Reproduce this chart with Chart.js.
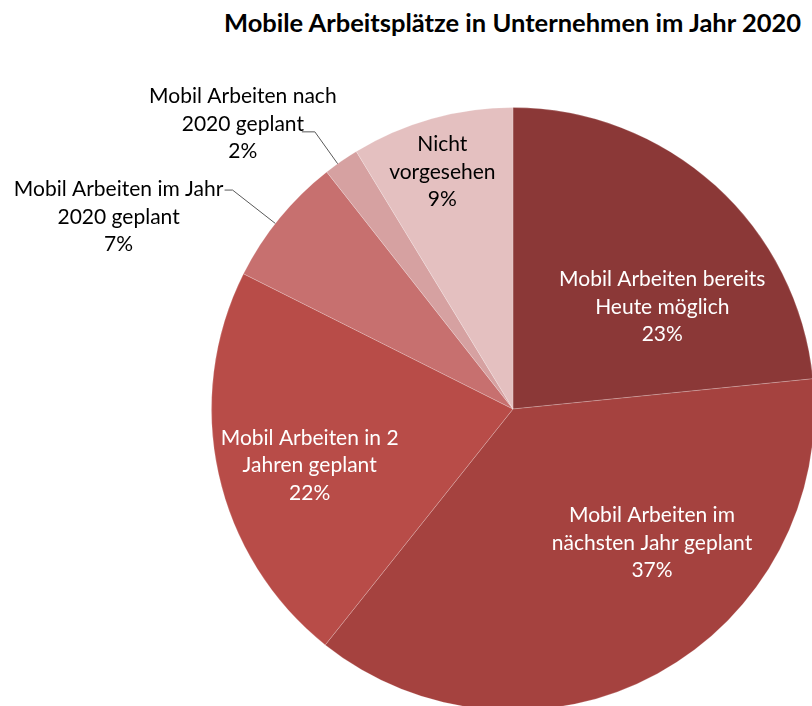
<!DOCTYPE html>
<html>
<head>
<meta charset="utf-8">
<script src="https://cdn.jsdelivr.net/npm/chart.js@4.4.0/dist/chart.umd.min.js"></script>
<style>
  html, body { margin: 0; padding: 0; background: #fff; overflow: hidden; width: 812px; height: 706px; }
  #title { position: absolute; left: 0; top: 7px; width: 1025px; text-align: center; font: bold 25.5px Lato, sans-serif; color: #000; }
  #wrap { position: absolute; left: 0; top: 0; }
</style>
</head>
<body>
<div id="title">Mobile Arbeitsplätze in Unternehmen im Jahr 2020</div>
<div id="wrap"><canvas id="pie" width="830" height="725"></canvas></div>
<script>
// Kategorien und Werte (Anteile in %)
const categories = [
    ['Mobil Arbeiten bereits', 'Heute möglich'],
    ['Mobil Arbeiten im', 'nächsten Jahr geplant'],
    ['Mobil Arbeiten in 2', 'Jahren geplant'],
    ['Mobil Arbeiten im Jahr', '2020 geplant'],
    ['Mobil Arbeiten nach', '2020 geplant'],
    ['Nicht', 'vorgesehen']
];
const shares = [23.4, 37.3, 21.7, 7.0, 1.9, 8.7];
const sliceColors = ['#8B3837', '#A5423F', '#B84C48', '#C7706F', '#D6A1A1', '#E4C0C0'];

// Platzierung der Beschriftungen (Anteil innerhalb des Segments, Radius-Faktor)
const labelLayout = [
    { inside: true, frac: 0.66, r: 0.60 },
    { inside: true, frac: 0.37, r: 0.64 },
    { inside: true, frac: 0.46, r: 0.70 },
    { inside: false, frac: 0.45, r: 1.18, hook: 8, dx: -114, dy: 27 },
    { inside: false, frac: 0.38, r: 1.13, hook: 13, dx: -72, dy: -8 },
    { inside: true, frac: 0.47, r: 0.82, dark: true }
];

const labelFont = '21px Lato, sans-serif';
const lineHeight = 27.5;

const pieLabels = {
    id: 'pieLabels',
    afterDatasetsDraw(chart) {
        const ctx = chart.ctx;
        const meta = chart.getDatasetMeta(0);
        ctx.save();
        ctx.font = labelFont;
        ctx.textAlign = 'center';
        ctx.textBaseline = 'middle';
        meta.data.forEach((arc, i) => {
            const p = arc.getProps(['x', 'y', 'startAngle', 'endAngle', 'outerRadius'], true);
            const cfg = labelLayout[i];
            const ang = p.startAngle + cfg.frac * (p.endAngle - p.startAngle);
            const lines = categories[i].concat([Math.round(shares[i]) + '%']);
            let cx, cy;
            if (cfg.inside) {
                cx = p.x + Math.cos(ang) * p.outerRadius * cfg.r;
                cy = p.y + Math.sin(ang) * p.outerRadius * cfg.r;
                ctx.fillStyle = cfg.dark ? '#000' : '#fff';
            } else {
                // Führungslinie vom Rand nach außen, dann kurz waagrecht
                const ax = p.x + Math.cos(ang) * p.outerRadius;
                const ay = p.y + Math.sin(ang) * p.outerRadius;
                const ex = p.x + Math.cos(ang) * p.outerRadius * cfg.r;
                const ey = p.y + Math.sin(ang) * p.outerRadius * cfg.r;
                ctx.strokeStyle = '#595959';
                ctx.lineWidth = 1;
                ctx.beginPath();
                ctx.moveTo(ax, ay);
                ctx.lineTo(ex, ey);
                ctx.lineTo(ex - cfg.hook, ey);
                ctx.stroke();
                cx = ex + cfg.dx;
                cy = ey + cfg.dy;
                ctx.fillStyle = '#000';
            }
            const top = cy - (lines.length - 1) * lineHeight / 2;
            lines.forEach((t, k) => ctx.fillText(t, cx, top + k * lineHeight));
        });
        ctx.restore();
    }
};

new Chart(document.getElementById('pie').getContext('2d'), {
    type: 'pie',
    data: {
        labels: categories.map(c => c.join(' ')),
        datasets: [{
            data: shares,
            backgroundColor: sliceColors,
            borderColor: 'rgba(255,255,255,0.2)',
            borderWidth: 1
        }]
    },
    options: {
        responsive: false,
        animation: false,
        layout: { padding: { left: 211, right: 15, top: 107, bottom: 14 } },
        plugins: {
            legend: { display: false },
            tooltip: { enabled: false },
            title: { display: false }
        }
    },
    plugins: [pieLabels]
});
</script>
</body>
</html>
